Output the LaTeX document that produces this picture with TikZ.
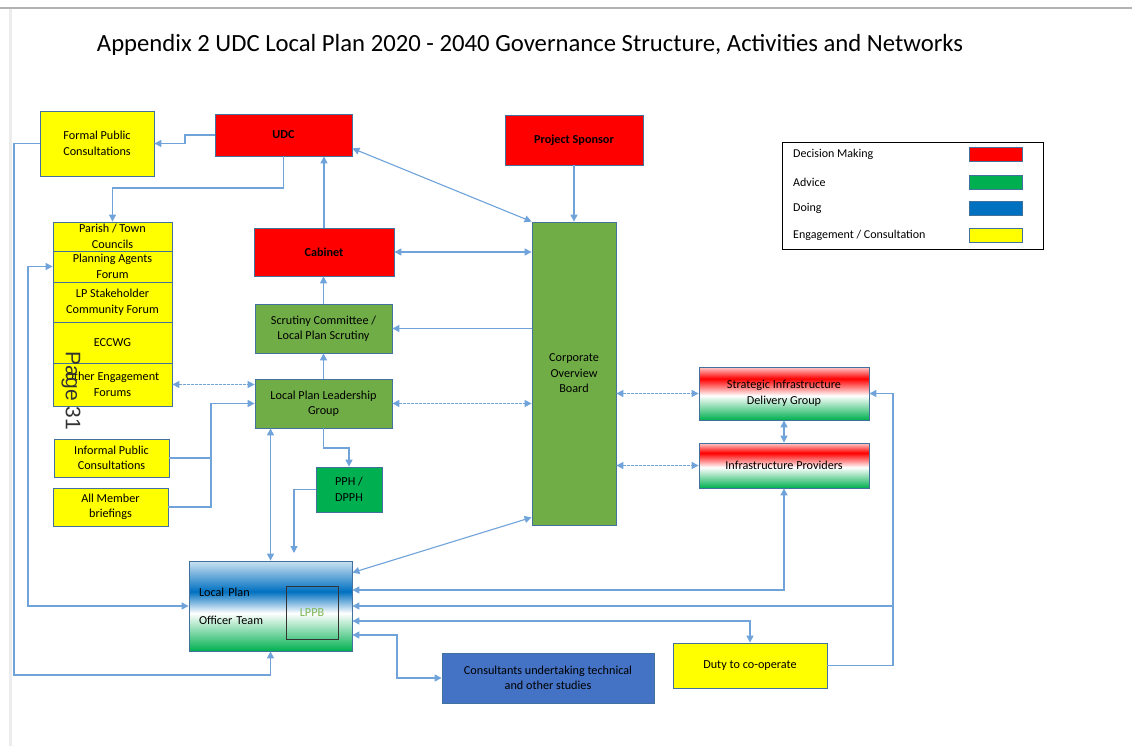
\documentclass[tikz,border=0pt]{standalone}
\usepackage{fontspec}
\setmainfont{Carlito}
\newfontfamily\stampfont{Liberation Sans}
\usetikzlibrary{arrows.meta}

\definecolor{decred}{HTML}{FF0000}
\definecolor{advgreen}{HTML}{00B050}
\definecolor{boardgreen}{HTML}{70AD47}
\definecolor{doblue}{HTML}{0070C0}
\definecolor{engyellow}{HTML}{FFFF00}
\definecolor{studyblue}{HTML}{4472C4}
\definecolor{boxline}{HTML}{41719C}
\definecolor{linkblue}{HTML}{6FA3DA}
\definecolor{lppbgreen}{HTML}{7DB753}

\pgfdeclareverticalshading{officershade}{100bp}{color(0bp)=(advgreen); color(25bp)=(advgreen); color(46bp)=(white); color(58bp)=(doblue); color(75bp)=(doblue!20!white); color(100bp)=(doblue!20!white)}
\pgfdeclareverticalshading{infrashade}{100bp}{color(0bp)=(advgreen); color(25bp)=(advgreen); color(48bp)=(white); color(64bp)=(decred); color(75bp)=(decred!20!white); color(100bp)=(decred!20!white)}

\begin{document}
\begin{tikzpicture}[x=1pt, y=-1pt, >={Triangle[length=7pt,width=7pt]},
    box/.style={draw=boxline, line width=0.8pt, inner sep=2pt, align=center,
      font=\fontsize{12.2}{15.5}\selectfont},
    link/.style={draw=linkblue, line width=1.1pt},
    soft/.style={link, dash pattern=on 2.5pt off 1.5pt}]
  \useasboundingbox (0,0) rectangle (1132,746);
  \fill[white] (0,0) rectangle (1132,746);
  \draw[gray!60, line width=1.5pt] (0,8) -- (1132,8);
  \draw[gray!15, line width=3pt] (10,9) -- (10,746);

  \node (title) at (530,45) {\fontsize{24.7}{28}\selectfont Appendix 2 UDC Local Plan 2020 - 2040 Governance Structure, Activities and Networks};

  \begin{scope}[every node/.append style={box}]
    % decision making
    \node[fill=decred, minimum width=137, minimum height=42] (udc) at (283.5,135) {\bfseries UDC};
    \node[fill=decred, minimum width=140, minimum height=48] (cabinet) at (324,252) {\bfseries Cabinet};
    \node[fill=decred, minimum width=138, minimum height=50] (sponsor) at (574,140) {\bfseries Project Sponsor};

    % advice
    \node[fill=boardgreen, minimum width=84, minimum height=303] (cob) at (574,373.5) {Corporate\\Overview\\Board};
    \node[fill=boardgreen, minimum width=137, minimum height=49] (scrutiny) at (323.5,328.5) {Scrutiny Committee /\\Local Plan Scrutiny};
    \node[fill=boardgreen, minimum width=137, minimum height=49] (lplg) at (323.5,403.5) {Local Plan Leadership\\Group};
    \node[fill=advgreen, minimum width=66, minimum height=45] (pph) at (349,489.5) {PPH /\\DPPH};

    % engagement
    \node[fill=engyellow, minimum width=114, minimum height=65] (fpc) at (97,143.5) {Formal Public\\Consultations};
    \node[fill=engyellow, minimum width=119, minimum height=29] (parish) at (112.5,236.5) {Parish / Town\\Councils};
    \node[fill=engyellow, minimum width=119, minimum height=31] (agents) at (112.5,266.5) {Planning Agents\\Forum};
    \node[fill=engyellow, minimum width=119, minimum height=40] (stake) at (112.5,302) {LP Stakeholder\\Community Forum};
    \node[fill=engyellow, minimum width=119, minimum height=41] (eccwg) at (112.5,342.5) {ECCWG};
    \node[fill=engyellow, minimum width=119, minimum height=43] (other) at (112.5,384.5) {Other Engagement\\Forums};
    \node[fill=engyellow, minimum width=115, minimum height=38] (informal) at (111.5,458) {Informal Public\\Consultations};
    \node[fill=engyellow, minimum width=115, minimum height=38] (members) at (110.5,507) {All Member\\briefings};
    \node[fill=engyellow, minimum width=154, minimum height=45] (duty) at (750,665.5) {Duty to co-operate};

    % doing
    \node[shading=officershade, minimum width=163, minimum height=90, text width=143, align=left] (lpot) at (270.5,606) {Local Plan\\[12.5pt]Officer Team};
    \node[draw=black!80, line width=0.9pt, minimum width=52, minimum height=53, text=lppbgreen] (lppb) at (312,612.5) {LPPB};
    \node[fill=studyblue, minimum width=212, minimum height=50] (consult) at (548,678) {Consultants undertaking technical\\and other studies};

    % infrastructure
    \node[shading=infrashade, minimum width=170, minimum height=53] (sidg) at (784,393.5) {Strategic Infrastructure\\Delivery Group};
    \node[shading=infrashade, minimum width=170, minimum height=45] (infra) at (784,465.5) {Infrastructure Providers};
  \end{scope}

  % key
  \node[draw=black, line width=0.8pt, minimum width=261, minimum height=107] (legend) at (912.5,195.5) {};
  \foreach \lbl/\col/\yy [count=\i] in {Decision Making/decred/154.5, Advice/advgreen/182, Doing/doblue/208.5, {Engagement / Consultation}/engyellow/235} {
    \node[anchor=west, inner sep=0, font=\fontsize{12}{14}\selectfont] (key\i) at (793,\yy) {\lbl};
    \node[draw=boxline, line width=0.8pt, fill=\col, minimum width=53, minimum height=14, inner sep=0] (swatch\i) at (995.5,\yy) {};
  }

  \begin{scope}[link]
    \draw[->] (udc.west) -- (185,135) -- (185,143.5) -- (fpc.east);
    \draw[->] (udc.south) -- (283.5,188) -- (112.5,188) -- (parish.north);
    \draw[->] (cabinet.north) -- (cabinet.north |- udc.south);
    \draw[<->] ([yshift=8pt]udc.south east) -- (cob.north west);
    \draw[->] (sponsor.south) -- (cob.north);
    \draw[<->] (cabinet.east) -- (cabinet.east -| cob.west);
    \draw[->] (scrutiny.north) -- (scrutiny.north |- cabinet.south);
    \draw[->] (cob.west |- scrutiny.east) -- (scrutiny.east);
    \draw[->] (lplg.north) -- (scrutiny.south);
    \draw[soft, <->] (lplg.east) -- (lplg.east -| cob.west);
    \draw[soft, <->] (other.east) -- (other.east -| lplg.west);
    \draw (informal.east) -- (211,458);
    \draw[->] (members.east) -| (211,403.5) -- (lplg.west);
    \draw[->] (lplg.south) -- (323.5,448) -- (349,448) -- (pph.north);
    \draw[->] (pph.west) -| (294,553);
    \draw[<->] (lplg.south -| lpot.north) -- (lpot.north);
    \draw[->] (fpc.west) -- (14,143.5) -- (14,675) -- (270.5,675) -- (lpot.south);
    \draw[<->] (lpot.west) -- (28,606) -- (28,266.5) -- (agents.west);
    \draw[<->] ([yshift=-12pt]lpot.north east) -- ([yshift=8pt]cob.south west);
    \draw[soft, <->] (cob.east |- sidg.west) -- (sidg.west);
    \draw[soft, <->] (cob.east |- infra.west) -- (infra.west);
    \draw[<->] (sidg.south) -- (infra.north);
    \draw[<->] ([yshift=16pt]lpot.east) -| (infra.south);
    \draw[->] (duty.east) -- (893,665.5) -- (893,393.5) -- (sidg.east);
    \draw[->] (893,606) -- (lpot.east);
    \draw[<->] ([yshift=-15pt]lpot.east) -| (duty.north);
    \draw[<->] ([yshift=-29pt]lpot.east) -- (397,635) -- (397,678) -- (consult.west);
  \end{scope}

  \node[rotate=-90, font=\stampfont\fontsize{21}{24}\selectfont, text=black!80] (stamp) at (71,391) {Page 31};
\end{tikzpicture}
\end{document}
